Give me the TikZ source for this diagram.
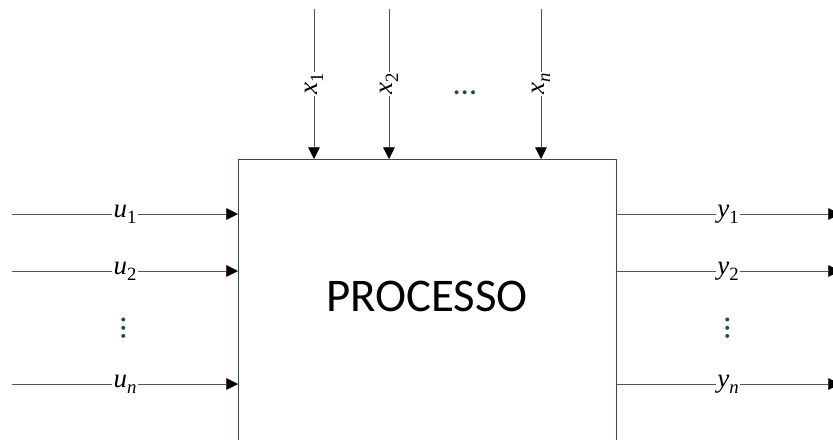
\documentclass[tikz,border=0pt]{standalone}
\usepackage{fontspec}
\setmainfont{Liberation Serif}
\newfontfamily\boxfont{Carlito}
\usetikzlibrary{arrows.meta}
\definecolor{boxgreen}{RGB}{47,79,63}
\definecolor{dotgreen}{RGB}{30,80,50}
\definecolor{linegray}{RGB}{85,85,85}
\newcommand{\sig}[2]{\textit{#1}\raisebox{-0.22em}{\fontsize{16}{16}\selectfont #2}}
\begin{document}
\begin{tikzpicture}[x=0.03cm,y=-0.03cm,
  every node/.style={font=\fontsize{23}{26}\selectfont},
  sig/.style={fill=white,inner sep=1pt},
  flow/.style={draw=linegray,line width=0.7pt,-{Triangle[length=10pt,width=10pt,color=black]}},
  dots/.style={text=dotgreen,font=\boxfont\fontsize{28}{28}\selectfont,inner sep=0pt}]
  \clip (0,0) rectangle (833,439);
  \node[draw=boxgreen,line width=0.6pt,fill=white,outer sep=0pt,minimum width=11.34cm,minimum height=8.46cm,text depth=7pt,font=\boxfont\fontsize{40}{44}\selectfont] (proc) at (427,300) {PROCESSO};
  % inputs u
  \coordinate (u1) at (12,214);
  \coordinate (u2) at (12,271);
  \coordinate (un) at (12,384);
  \draw[flow] (u1) -- (proc.west |- u1) node[sig,pos=0.5] {\sig{u}{1}};
  \draw[flow] (u2) -- (proc.west |- u2) node[sig,pos=0.5] {\sig{u}{2}};
  \draw[flow] (un) -- (proc.west |- un) node[sig,pos=0.5] {\sig{u}{\textit{n}}};
  \node[dots,rotate=90] (udots) at (124,328) {…};
  % outputs y
  \coordinate (y1) at (840,214);
  \coordinate (y2) at (840,271);
  \coordinate (yn) at (840,384);
  \draw[flow] (proc.east |- y1) -- (y1) node[sig,pos=0.5] {\sig{y}{1}};
  \draw[flow] (proc.east |- y2) -- (y2) node[sig,pos=0.5] {\sig{y}{2}};
  \draw[flow] (proc.east |- yn) -- (yn) node[sig,pos=0.5] {\sig{y}{\textit{n}}};
  \node[dots,rotate=90] (ydots) at (728,328) {…};
  % disturbances x
  \coordinate (x1) at (314,9);
  \coordinate (x2) at (389,9);
  \coordinate (xn) at (541,9);
  \draw[flow] (x1) -- (proc.north -| x1) node[sig,rotate=90,pos=0.5] {\sig{x}{1}};
  \draw[flow] (x2) -- (proc.north -| x2) node[sig,rotate=90,pos=0.5] {\sig{x}{2}};
  \draw[flow] (xn) -- (proc.north -| xn) node[sig,rotate=90,pos=0.5] {\sig{x}{\textit{n}}};
  \node[dots] (xdots) at (465,93) {…};
\end{tikzpicture}
\end{document}
